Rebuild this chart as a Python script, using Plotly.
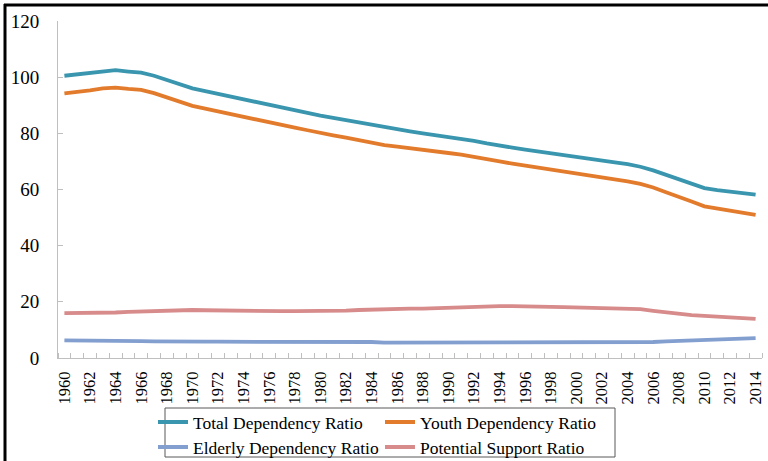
import plotly.graph_objects as go

years = list(range(1960, 2015))
tick_years = list(range(1960, 2015, 2))
tick_labels = [str(y) for y in tick_years]

total = [100.5, 101.0, 101.8, 102.3, 102.5, 102.0, 101.6, 100.5, 99.1, 97.5,
         96.0, 95.0, 94.0, 93.0, 92.0, 91.0, 90.0, 89.2, 88.3, 87.3,
         86.3, 85.5, 84.7, 83.7, 82.8, 82.0, 81.3, 80.7, 80.0, 79.4,
         78.8, 78.2, 77.3, 76.4, 75.5, 74.9, 74.2, 73.6, 73.0, 72.4,
         71.6, 71.0, 70.4, 69.7, 69.0, 68.1, 66.8, 65.2, 63.5, 61.8,
         60.5, 59.8, 59.3, 58.7, 58.2]
youth = [94.2, 94.6, 95.3, 96.0, 96.3, 95.8, 95.5, 94.3, 92.7, 91.2,
         89.8, 88.8, 87.8, 86.8, 85.8, 84.7, 83.8, 82.8, 82.0, 81.1,
         80.1, 79.3, 78.5, 77.5, 76.6, 75.8, 75.3, 74.8, 74.2, 73.6,
         73.0, 72.4, 71.7, 70.8, 70.0, 69.2, 68.5, 67.9, 67.3, 66.5,
         65.8, 65.0, 64.4, 63.7, 62.9, 62.0, 60.7, 59.0, 57.5, 55.7,
         54.0, 53.2, 52.4, 51.6, 51.0]
elderly = [6.3, 6.3, 6.3, 6.2, 6.1, 6.0, 6.0, 5.9, 5.8, 5.8,
           5.8, 5.8, 5.8, 5.8, 5.8, 5.9, 5.9, 5.9, 5.9, 5.9,
           5.9, 5.8, 5.8, 5.8, 5.7, 5.5, 5.5, 5.5, 5.5, 5.5,
           5.5, 5.5, 5.4, 5.4, 5.4, 5.4, 5.4, 5.4, 5.4, 5.4,
           5.4, 5.5, 5.5, 5.5, 5.5, 5.5, 5.7, 5.9, 6.1, 6.3,
           6.5, 6.6, 6.8, 7.0, 7.1]
support = [16.0, 16.0, 16.0, 16.1, 16.2, 16.4, 16.6, 16.7, 16.9, 17.0,
           17.1, 17.0, 16.9, 16.9, 16.9, 16.8, 16.7, 16.7, 16.7, 16.7,
           16.7, 16.8, 16.9, 17.1, 17.3, 17.5, 17.6, 17.6, 17.6, 17.8,
           17.9, 18.0, 18.2, 18.4, 18.5, 18.5, 18.5, 18.3, 18.2, 18.1,
           18.0, 17.9, 17.8, 17.7, 17.6, 17.4, 16.8, 16.2, 15.7, 15.3,
           15.0, 14.8, 14.5, 14.2, 13.9]

FONT = "Liberation Serif"
W, H = 768, 461
L, R, T, B = 58, 6, 21, 103
pw, ph = W - L - R, H - T - B

def px_x(x):
    return (x - L) / pw

def px_y(y):
    return (H - B - y) / ph

# (name, values, colour, legend id, legend left px, legend row centre px)
series = [
    ("Total Dependency Ratio", total, "#3A96AE", "legend", 153, 422),
    ("Youth Dependency Ratio", youth, "#E37B2C", "legend2", 380, 422),
    ("Elderly Dependency Ratio", elderly, "#839FD0", "legend3", 153, 447),
    ("Potential Support Ratio", support, "#D78B8B", "legend4", 380, 447),
]

fig = go.Figure()
legends = {}
LEG_FS = 17.5
item_h = LEG_FS * 1.3 + 3
for name, vals, color, leg, lx, ly in series:
    fig.add_trace(go.Scatter(x=years, y=vals, mode="lines", name=name,
                             line=dict(color=color, width=3.8), legend=leg))
    top = ly - (item_h / 2 + 5)
    legends[leg] = dict(font=dict(family=FONT, size=LEG_FS, color="black"),
                        bgcolor="rgba(0,0,0,0)", borderwidth=0,
                        orientation="v", xanchor="left", yanchor="top",
                        xref="container", yref="container",
                        x=lx / W, y=1 - top / H, tracegroupgap=0)

fig.update_layout(
    template="none",
    width=W, height=H,
    margin=dict(l=L, r=R, t=T, b=B, autoexpand=False),
    paper_bgcolor="white", plot_bgcolor="white",
    font=dict(family=FONT, color="black"),
    showlegend=True,
    **legends,
    xaxis=dict(range=[1959.5, 2014.5], tickmode="array", tickvals=tick_years,
               ticktext=tick_labels, tickangle=-90, ticks="",
               tickfont=dict(family=FONT, size=16.5, color="black"),
               showline=True, linecolor="#BFBFBF", linewidth=1,
               showgrid=False, zeroline=False, ticklabelstandoff=6,
               automargin=False,
               minor=dict(tickmode="linear", tick0=1959.5, dtick=1,
                          ticks="inside", ticklen=5, tickcolor="#BFBFBF",
                          showgrid=False)),
    yaxis=dict(range=[0, 120], tickvals=[0, 20, 40, 60, 80, 100, 120],
               ticks="inside", ticklen=5, tickcolor="#BFBFBF",
               tickfont=dict(family=FONT, size=19, color="black"),
               showline=True, linecolor="#BFBFBF", linewidth=1,
               showgrid=False, zeroline=False, ticklabelstandoff=14,
               automargin=False),
    shapes=[
        dict(type="rect", xref="paper", yref="paper",
             x0=px_x(165), x1=px_x(615), y0=px_y(457), y1=px_y(408),
             line=dict(color="#595959", width=1)),
        dict(type="line", xref="paper", yref="paper",
             x0=px_x(5), x1=px_x(5), y0=px_y(470), y1=px_y(4),
             line=dict(color="black", width=3)),
        dict(type="line", xref="paper", yref="paper",
             x0=px_x(4), x1=px_x(775), y0=px_y(5), y1=px_y(5),
             line=dict(color="black", width=3)),
    ],
)

fig.write_html("out.html", config={"displayModeBar": False},
               post_script="document.body.style.margin='0';document.body.style.overflow='hidden';")
